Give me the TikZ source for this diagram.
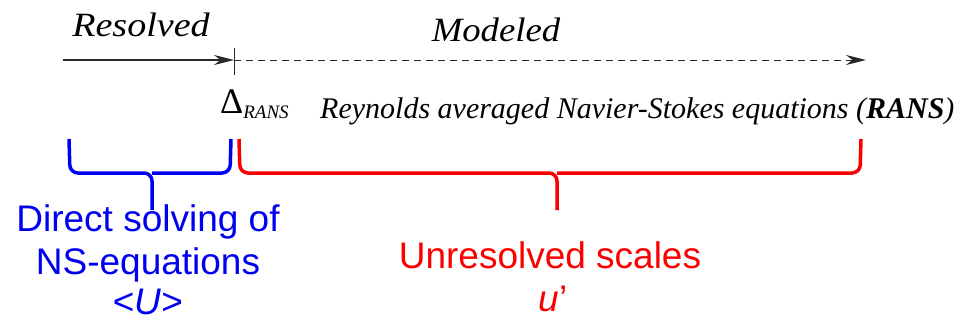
\documentclass[tikz,border=0pt]{standalone}
\usepackage{fontspec}
\setmainfont{Liberation Serif}
\newfontfamily\arialf{Liberation Sans}
\usetikzlibrary{arrows.meta}
\definecolor{bblue}{RGB}{0,0,240}
\definecolor{rred}{RGB}{250,0,0}
\definecolor{lineg}{RGB}{40,40,40}
\tikzset{
  serifit/.style={font=\fontsize{34}{38}\selectfont\itshape, inner sep=0pt, anchor=base},
  colortext/.style={font=\arialf\fontsize{37}{42}\selectfont, inner sep=0pt, anchor=base},
  bracepath/.style={line width=3.5pt, rounded corners=8pt},
  tip/.style={-{Stealth[length=20pt,width=10pt]}}
}
\begin{document}
\begin{tikzpicture}[x=1pt,y=-1pt]
\useasboundingbox (0,0) rectangle (959,322);
% top labels
\node[serifit, xscale=1.12] (res) at (141,36) {Resolved};
\node[serifit, xscale=1.08] (mod) at (496,41) {Modeled};
% axis
\coordinate (a0) at (63,60);
\coordinate (split) at (234,60);
\coordinate (a1) at (866,60);
\coordinate (t0) at (234,48);
\coordinate (t1) at (234,75);
\draw[lineg, line width=1.2pt, tip] (a0) -- (split);
\draw[lineg, line width=1pt] (t0) -- (t1);
\draw[lineg, line width=1pt, dash pattern=on 7pt off 5pt, tip] (split) -- (a1);
% delta and RANS line
\node[inner sep=0pt, anchor=base west, font=\fontsize{36}{38}\selectfont] (delta) at (220,113) {Δ\raisebox{-5pt}{\fontsize{19}{20}\selectfont\itshape RANS}};
\node[inner sep=0pt, anchor=base west, font=\fontsize{30}{34}\selectfont\itshape] (rans) at (320,118) {Reynolds averaged Navier-Stokes equations (\textbf{RANS})};
% blue brace
\coordinate (bl) at (69,139);
\coordinate (br) at (231,139);
\coordinate (bm) at (152,210);
\draw[bblue, bracepath] (bl) -- (70,173) -- (152,173) -- (bm);
\draw[bblue, bracepath] (br) -- (230,173) -- (152,173);
% red brace
\coordinate (rl) at (239,139);
\coordinate (rr) at (861,139);
\coordinate (rm) at (557,210);
\draw[rred, bracepath] (rl) -- (240,173) -- (557,173) -- (rm);
\draw[rred, bracepath] (rr) -- (860,173) -- (557,173);
% texts
\node[colortext, text=bblue] (blue1) at (148,231) {Direct solving of};
\node[colortext, text=bblue] (blue2) at (148,274) {NS-equations};
\node[colortext, text=bblue] (blue3) at (148,314) {<\textit{U}>};
\node[colortext, text=rred] (red1) at (550,268) {Unresolved scales};
\node[colortext, text=rred] (red2) at (553,311) {\textit{u}’};
\end{tikzpicture}
\end{document}
